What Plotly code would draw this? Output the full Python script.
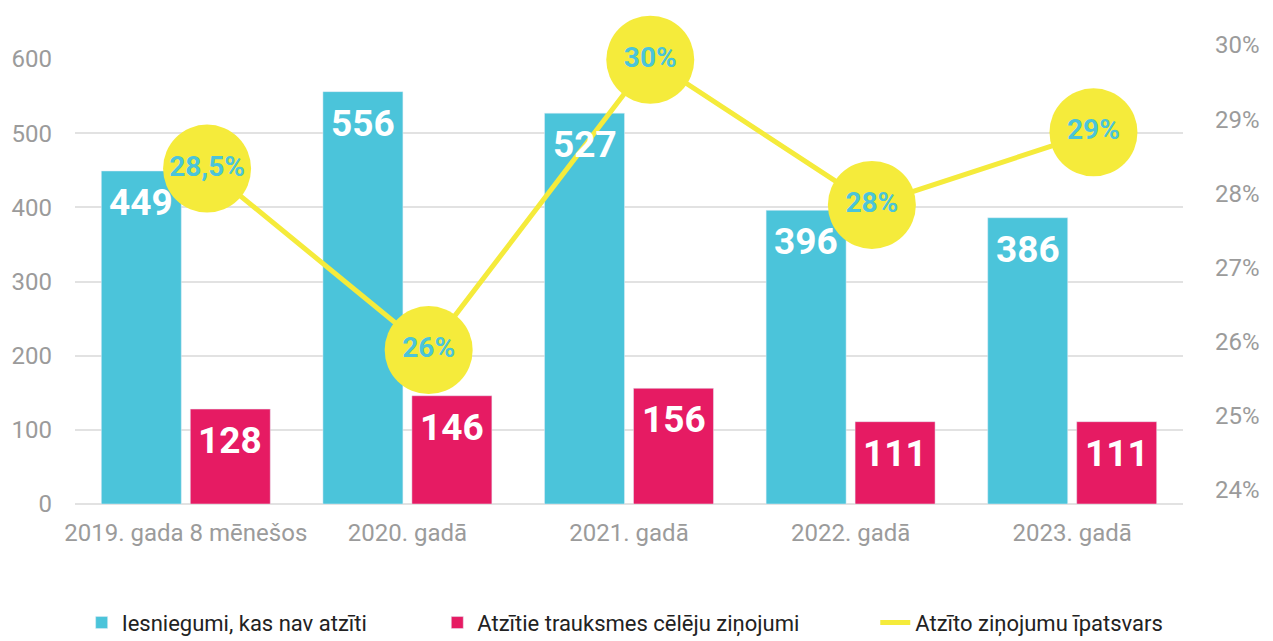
import plotly.graph_objects as go

categories = ["2019. gada 8 mēnešos", "2020. gadā", "2021. gadā", "2022. gadā", "2023. gadā"]
not_recognized = [449, 556, 527, 396, 386]
recognized = [128, 146, 156, 111, 111]
share_pct = [28.5, 26, 30, 28, 29]
share_labels = ["28,5%", "26%", "30%", "28%", "29%"]
left_ticks = [0, 100, 200, 300, 400, 500, 600]
right_ticks = [24, 25, 26, 27, 28, 29, 30]
right_tick_text = ["24%", "25%", "26%", "27%", "28%", "29%", "30%"]

names = ["Iesniegumi, kas nav atzīti", "Atzītie trauksmes cēlēju ziņojumi", "Atzīto ziņojumu īpatsvars"]

CYAN = "#4BC4DA"
PINK = "#E61B63"
YELLOW = "#F5EB3B"
GRID = "#E2E2E2"
TICK = "#9B9B9B"
BOLDFONT = "Roboto, sans-serif"
TICKFONT = "Roboto, sans-serif"
PAD1 = "\u00a0" * 12
PAD2 = "\u00a0" * 13

fig = go.Figure()
fig.add_trace(go.Bar(x=categories, y=not_recognized, name=names[0] + PAD1, marker_color=CYAN,
                     hoverinfo="skip"))
fig.add_trace(go.Bar(x=categories, y=recognized, name=names[1] + PAD2, marker_color=PINK,
                     hoverinfo="skip"))
fig.add_trace(go.Scatter(x=categories, y=share_pct, name=names[2], xaxis="x2", yaxis="y3",
                         mode="lines+markers+text", text=share_labels, textposition="middle center",
                         textfont=dict(family=BOLDFONT, size=28, color=CYAN, weight="bold"),
                         line=dict(color=YELLOW, width=5),
                         marker=dict(size=88, color=YELLOW, line=dict(width=0)),
                         cliponaxis=False, hoverinfo="skip", showlegend=False))
# legend entry for the line (line only, as in the reference)
fig.add_trace(go.Scatter(x=[None], y=[None], name=names[2], mode="lines",
                         line=dict(color=YELLOW, width=5), hoverinfo="skip"))
# invisible trace to show the right axis labels
fig.add_trace(go.Scatter(x=categories, y=share_pct, yaxis="y2", mode="markers",
                         marker=dict(opacity=0), showlegend=False, hoverinfo="skip"))

annotations = []
for cat, v in zip(categories, not_recognized):
    annotations.append(dict(x=cat, y=v, xref="x", yref="y", text=str(v), showarrow=False,
                            xshift=-44.5, yshift=-8, yanchor="top",
                            font=dict(family=BOLDFONT, size=37, color="white", weight="bold")))
for cat, v in zip(categories, recognized):
    annotations.append(dict(x=cat, y=v, xref="x", yref="y", text=str(v), showarrow=False,
                            xshift=44.5, yshift=-8, yanchor="top",
                            font=dict(family=BOLDFONT, size=37, color="white", weight="bold")))

fig.update_layout(
    width=1265, height=633,
    margin=dict(l=67, r=90, t=51, b=137, autoexpand=False),
    paper_bgcolor="white", plot_bgcolor="white",
    barmode="group", bargap=0.197, bargroupgap=0.101,
    annotations=annotations,
    showlegend=True,
    legend=dict(orientation="h", x=0.006, xanchor="left", yref="container", y=0.062, yanchor="top",
                font=dict(family=TICKFONT, size=22, color="#222222"),
                traceorder="normal"),
    xaxis=dict(categoryorder="array", categoryarray=categories, showgrid=False,
               tickfont=dict(family=TICKFONT, size=24, color=TICK), ticks="",
               ticklabelstandoff=12, range=[-0.5, 4.5]),
    xaxis2=dict(overlaying="x", categoryorder="array", categoryarray=categories,
                range=[-0.596, 4.404], visible=False),
    yaxis=dict(range=[0, 600], tickvals=left_ticks, showgrid=True, gridcolor=GRID, gridwidth=1.5,
               zeroline=True, zerolinecolor=GRID, zerolinewidth=1.5,
               tickfont=dict(family=TICKFONT, size=24, color=TICK), ticks="",
               ticklabelstandoff=22),
    yaxis2=dict(overlaying="y", side="right", range=[24, 30], tickvals=right_ticks,
                ticktext=right_tick_text, showgrid=False, zeroline=False,
                tickfont=dict(family=TICKFONT, size=24, color=TICK), ticks="",
                ticklabelstandoff=31, ticklabelshift=-14),
    yaxis3=dict(overlaying="y", range=[23.88, 30.01], visible=False),
)

fig.write_html("out.html")
